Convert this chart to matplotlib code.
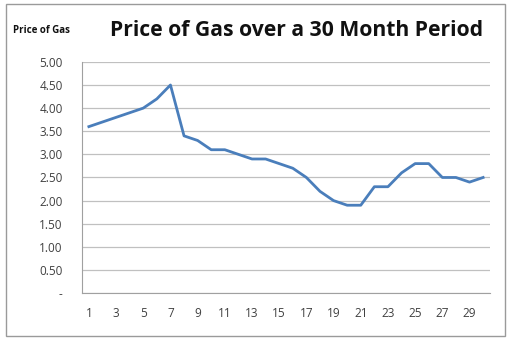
import matplotlib
matplotlib.use("Agg")
import matplotlib.pyplot as plt
from matplotlib.patches import Rectangle

# monthly gas price over 30 months
months = list(range(1, 31))
prices = [3.6, 3.7, 3.8, 3.9, 4.0, 4.2, 4.5, 3.4, 3.3, 3.1,
          3.1, 3.0, 2.9, 2.9, 2.8, 2.7, 2.5, 2.2, 2.0, 1.9,
          1.9, 2.3, 2.3, 2.6, 2.8, 2.8, 2.5, 2.5, 2.4, 2.5]
yticks = [0, 0.5, 1.0, 1.5, 2.0, 2.5, 3.0, 3.5, 4.0, 4.5, 5.0]
ylabels = ["-"] + ["%.2f" % v for v in yticks[1:]]
xticks = list(range(1, 31, 2))

plt.rcParams['font.family'] = ['Open Sans', 'DejaVu Sans']

fig = plt.figure(figsize=(5.13, 3.4), dpi=100)
ax = fig.add_axes([0.160, 0.138, 0.795, 0.680])

ax.plot(months, prices, color="#4A7EBB", linewidth=2.0, solid_joinstyle="round")

ax.set_xlim(0.5, 30.5)
ax.set_ylim(0, 5)
ax.set_yticks(yticks)
ax.set_yticklabels(ylabels)
ax.set_xticks(xticks)
ax.grid(axis="y", color="#C0C0C0", linewidth=0.9)
ax.set_axisbelow(True)
for s in ["top", "right"]:
    ax.spines[s].set_visible(False)
ax.spines["left"].set_color("#A0A0A0")
ax.spines["bottom"].set_color("#A0A0A0")
ax.tick_params(length=0, labelsize=8.5, colors="#404040", pad=10)
ax.tick_params(axis="y", pad=14)

fig.text(0.578, 0.91, "Price of Gas over a 30 Month Period", ha="center", va="center",
         fontsize=15.2, fontweight="bold", color="#111111")
fig.text(0.025, 0.91, "Price of Gas", ha="left", va="center",
         fontsize=7, fontweight="bold", color="#111111")

# chart border
fig.patches.append(Rectangle((0.012, 0.012), 0.973, 0.976, transform=fig.transFigure,
                             fill=False, edgecolor="#9A9A9A", linewidth=1.0))

fig.savefig("out.png", dpi=100)
